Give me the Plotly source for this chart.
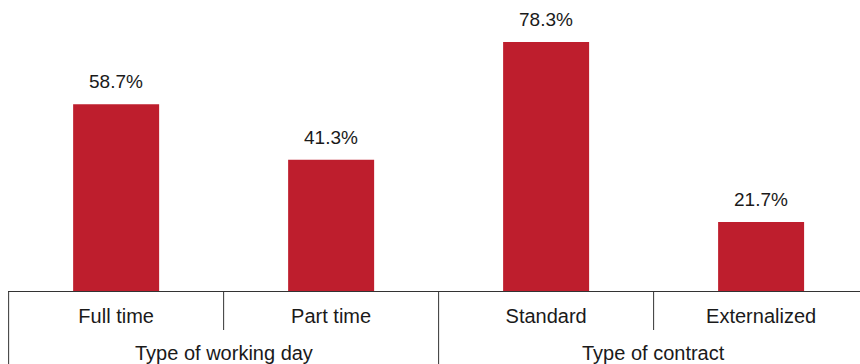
import plotly.graph_objects as go

categories = ["Full time", "Part time", "Standard", "Externalized"]
values = [58.7, 41.3, 78.3, 21.7]
labels = ["58.7%", "41.3%", "78.3%", "21.7%"]
group_names = ["Type of working day", "Type of contract"]
group_members = [[0, 1], [2, 3]]

RED = "#BE1E2D"
FONT = "Liberation Sans, Arial, Helvetica, sans-serif"
TXT = "#1a1a1a"
LINE = "#333333"

fig = go.Figure()
fig.add_trace(go.Bar(
    x=categories,
    y=values,
    marker=dict(color=RED, line=dict(width=0)),
    width=0.4,
    hoverinfo="skip",
))

for i, (v, t) in enumerate(zip(values, labels)):
    fig.add_annotation(x=i, y=v, xref="x", yref="y", text=t, showarrow=False,
                       yanchor="bottom", yshift=10,
                       font=dict(size=19, color=TXT, family=FONT))

PLOT_H = 364 - 20 - 73
for name, members in zip(group_names, group_members):
    center = (members[0] + members[-1]) / 2
    fig.add_annotation(x=center, y=0, xref="x", yref="paper", text=name,
                       showarrow=False, yanchor="middle", yshift=-62,
                       font=dict(size=20, color=TXT, family=FONT))
    # long divider at the start of each group
    fig.add_shape(type="line", xref="x", yref="paper",
                  x0=members[0] - 0.5, x1=members[0] - 0.5, y0=0, y1=-1,
                  line=dict(color=LINE, width=1))
    # short divider between categories inside a group
    for m in members[1:]:
        fig.add_shape(type="line", xref="x", yref="paper",
                      x0=m - 0.5, x1=m - 0.5, y0=0, y1=-39 / PLOT_H,
                      line=dict(color=LINE, width=1))

fig.update_layout(
    width=860, height=364,
    margin=dict(l=8, r=0, t=20, b=73),
    plot_bgcolor="white", paper_bgcolor="white",
    showlegend=False,
    font=dict(family=FONT, size=19, color=TXT),
    xaxis=dict(
        type="category",
        range=[-0.503, 3.46],
        showline=True, linecolor=LINE, linewidth=1,
        showgrid=False, zeroline=False,
        ticks="", ticklabelstandoff=7,
        tickfont=dict(size=20, family=FONT, color=TXT),
    ),
    yaxis=dict(range=[0, PLOT_H / 3.18], visible=False, showgrid=False, zeroline=False),
)

fig.write_html("out.html")
